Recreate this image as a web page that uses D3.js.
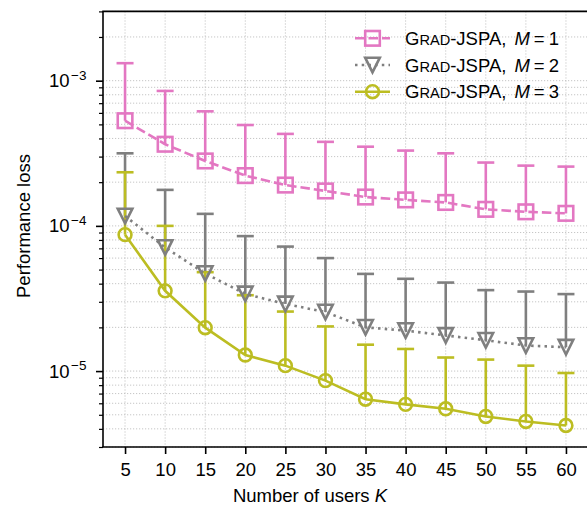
<!DOCTYPE html>
<html>
<head>
<meta charset="utf-8">
<script src="https://cdn.jsdelivr.net/npm/d3@7"></script>
<style>
  body { margin: 0; background: #fff; }
  svg { display: block; font-family: "Liberation Sans", Arial, Helvetica, sans-serif; }
</style>
</head>
<body>
<div class="chart"></div>
<script>
// number of users K
const users = [5, 10, 15, 20, 25, 30, 35, 40, 45, 50, 55, 60];

// mean performance loss and top of the error bar, per M
const lossM1 = [5.30e-4, 3.65e-4, 2.80e-4, 2.22e-4, 1.91e-4, 1.74e-4, 1.58e-4, 1.51e-4, 1.45e-4, 1.30e-4, 1.25e-4, 1.22e-4];
const upperM1 = [1.32e-3, 8.5e-4, 6.15e-4, 4.95e-4, 4.30e-4, 3.79e-4, 3.51e-4, 3.30e-4, 3.16e-4, 2.73e-4, 2.60e-4, 2.56e-4];
const lossM2 = [1.17e-4, 7.1e-5, 4.7e-5, 3.4e-5, 2.9e-5, 2.55e-5, 2.0e-5, 1.9e-5, 1.76e-5, 1.63e-5, 1.5e-5, 1.46e-5];
const upperM2 = [3.16e-4, 1.77e-4, 1.21e-4, 8.5e-5, 7.2e-5, 6.0e-5, 4.67e-5, 4.32e-5, 4.07e-5, 3.61e-5, 3.53e-5, 3.39e-5];
const lossM3 = [8.7e-5, 3.57e-5, 1.99e-5, 1.29e-5, 1.09e-5, 8.6e-6, 6.4e-6, 5.9e-6, 5.5e-6, 4.87e-6, 4.5e-6, 4.22e-6];
const upperM3 = [2.34e-4, 1.0e-4, 4.8e-5, 3.33e-5, 2.57e-5, 2.03e-5, 1.52e-5, 1.42e-5, 1.24e-5, 1.20e-5, 1.09e-5, 9.7e-6];

const seriesNames = ["1", "2", "3"];
const colors = ["#e377c2", "#7f7f7f", "#bcbd22"];
const dashes = ["9.5,4", "2.5,4.2", null];
const markers = ["square", "triangle", "circle"];

const series = [
  { m: seriesNames[0], loss: lossM1, upper: upperM1, color: colors[0], dash: dashes[0], marker: markers[0] },
  { m: seriesNames[1], loss: lossM2, upper: upperM2, color: colors[1], dash: dashes[1], marker: markers[1] },
  { m: seriesNames[2], loss: lossM3, upper: upperM3, color: colors[2], dash: dashes[2], marker: markers[2] }
];

const W = 587, H = 506;
const plot = { left: 103, right: 588, top: 11.4, bottom: 447 };

const x = d3.scaleLinear()
  .domain([2.25, 62.75])
  .range([plot.left, plot.right]);

const y = d3.scaleLog()
  .domain([3e-6, 3e-3])
  .range([plot.bottom, plot.top]);

const svg = d3.select(".chart").append("svg")
  .attr("width", W)
  .attr("height", H);

// minor + major y positions for grid
const yMajor = [1e-5, 1e-4, 1e-3];
const yMinor = [];
for (let e = -6; e <= -3; e++) {
  for (let k = 2; k <= 9; k++) {
    const v = k * Math.pow(10, e);
    if (v >= 3e-6 * 0.999 && v <= 3e-3 * 1.001) yMinor.push(v);
  }
}

const grid = svg.append("g")
  .attr("class", "grid")
  .attr("stroke", "#b8b8b8")
  .attr("stroke-width", 0.8)
  .attr("stroke-dasharray", "1.2,1.8");

grid.selectAll("line.gy")
  .data(yMajor.concat(yMinor))
  .join("line")
  .attr("class", "gy")
  .attr("x1", plot.left).attr("x2", plot.right)
  .attr("y1", d => y(d)).attr("y2", d => y(d));

grid.selectAll("line.gx")
  .data(users)
  .join("line")
  .attr("class", "gx")
  .attr("x1", d => x(d)).attr("x2", d => x(d))
  .attr("y1", plot.top).attr("y2", plot.bottom);

// error bars first (they sit under the data lines)
const capW = 17;
series.forEach(s => {
  const g = svg.append("g")
    .attr("class", "errorbars")
    .attr("stroke", s.color)
    .attr("stroke-width", 2.6);
  g.selectAll("line.v")
    .data(users)
    .join("line")
    .attr("class", "v")
    .attr("x1", d => x(d)).attr("x2", d => x(d))
    .attr("y1", (d, i) => y(s.loss[i]))
    .attr("y2", (d, i) => y(s.upper[i]));
  g.selectAll("line.cap")
    .data(users)
    .join("line")
    .attr("class", "cap")
    .attr("x1", d => x(d) - capW / 2).attr("x2", d => x(d) + capW / 2)
    .attr("y1", (d, i) => y(s.upper[i]))
    .attr("y2", (d, i) => y(s.upper[i]));
});

function drawMarker (sel, type, color) {
  if (type === "square") {
    sel.append("rect")
      .attr("x", -7.3).attr("y", -7.3)
      .attr("width", 14.6).attr("height", 14.6)
      .attr("fill", "none").attr("stroke", color).attr("stroke-width", 2.6);
  } else if (type === "triangle") {
    sel.append("path")
      .attr("d", "M0,7.3L-7.3,-7.3L7.3,-7.3Z")
      .attr("fill", "none").attr("stroke", color).attr("stroke-width", 2.6)
      .attr("stroke-linejoin", "miter");
  } else {
    sel.append("circle")
      .attr("r", 6.4)
      .attr("fill", "none").attr("stroke", color).attr("stroke-width", 2.6);
  }
}

const line = d3.line()
  .x(d => x(d[0]))
  .y(d => y(d[1]));

series.forEach(s => {
  const pts = users.map((k, i) => [k, s.loss[i]]);
  svg.append("path")
    .datum(pts)
    .attr("fill", "none")
    .attr("stroke", s.color)
    .attr("stroke-width", 2.6)
    .attr("stroke-dasharray", s.dash)
    .attr("d", line);
  svg.append("g")
    .selectAll("g")
    .data(pts)
    .join("g")
    .attr("transform", d => `translate(${x(d[0])},${y(d[1])})`)
    .each(function () { drawMarker(d3.select(this), s.marker, s.color); });
});

// spines
svg.append("line")
  .attr("x1", plot.left).attr("x2", plot.left)
  .attr("y1", plot.top).attr("y2", plot.bottom)
  .attr("stroke", "#000").attr("stroke-width", 1.6);
svg.append("line")
  .attr("x1", plot.left - 0.8).attr("x2", plot.right)
  .attr("y1", plot.bottom).attr("y2", plot.bottom)
  .attr("stroke", "#000").attr("stroke-width", 1.6);
svg.append("line")
  .attr("x1", plot.left - 0.8).attr("x2", plot.right)
  .attr("y1", plot.top).attr("y2", plot.top)
  .attr("stroke", "#000").attr("stroke-width", 1.6);

// x axis
const xAxis = d3.axisBottom(x)
  .tickValues(users)
  .tickSize(7)
  .tickPadding(9)
  .tickFormat(d3.format("d"));

const gx = svg.append("g")
  .attr("transform", `translate(0,${plot.bottom})`)
  .call(xAxis);
gx.select(".domain").remove();
gx.selectAll(".tick line").attr("stroke-width", 1.6);
gx.selectAll(".tick text")
  .attr("font-size", 18.5)
  .attr("font-family", "Liberation Sans, Arial, sans-serif")
  .attr("fill", "#000");

// y axis: major ticks with power labels, minor ticks
const yAxis = d3.axisLeft(y)
  .tickValues(yMajor)
  .tickSize(7)
  .tickFormat("");
const gy = svg.append("g")
  .attr("transform", `translate(${plot.left},0)`)
  .call(yAxis);
gy.select(".domain").remove();
gy.selectAll(".tick line").attr("stroke-width", 1.6);

const yAxisMinor = d3.axisLeft(y)
  .tickValues(yMinor)
  .tickSize(4)
  .tickFormat("");
const gyMinor = svg.append("g")
  .attr("transform", `translate(${plot.left},0)`)
  .call(yAxisMinor);
gyMinor.select(".domain").remove();
gyMinor.selectAll(".tick line").attr("stroke-width", 1.2);

const yLabels = svg.append("g")
  .selectAll("text")
  .data(yMajor)
  .join("text")
  .attr("x", 86.5)
  .attr("y", d => y(d) + 6.6)
  .attr("text-anchor", "end")
  .attr("font-size", 18.5)
  .attr("fill", "#000");
yLabels.append("tspan").text("10");
yLabels.append("tspan")
  .attr("dx", 1.5)
  .attr("dy", -7.3)
  .attr("font-size", 13.5)
  .text(d => "\u2212" + Math.round(-Math.log10(d)));

// axis titles
const xTitle = svg.append("text")
  .attr("x", 310)
  .attr("y", 502)
  .attr("text-anchor", "middle")
  .attr("font-size", 18.5)
  .attr("fill", "#000");
xTitle.append("tspan").text("Number of users ");
xTitle.append("tspan").attr("font-style", "italic").text("K");

svg.append("text")
  .attr("transform", "translate(29.5,226) rotate(-90)")
  .attr("text-anchor", "middle")
  .attr("font-size", 18.5)
  .attr("fill", "#000")
  .text("Performance loss");

// legend
const legendRows = [38.3, 65, 91.7];
series.forEach((s, i) => {
  const ly = legendRows[i];
  const lg = svg.append("g").attr("class", "legend");
  lg.append("line")
    .attr("x1", 355).attr("x2", 390)
    .attr("y1", ly).attr("y2", ly)
    .attr("stroke", s.color)
    .attr("stroke-width", 2.6)
    .attr("stroke-dasharray", s.dash);
  const mk = lg.append("g").attr("transform", `translate(372.5,${ly})`);
  drawMarker(mk, s.marker, s.color);
  const t = lg.append("text")
    .attr("x", 405)
    .attr("y", ly + 6.6)
    .attr("font-size", 18.5)
    .attr("fill", "#000");
  t.append("tspan").text("G");
  t.append("tspan").attr("font-size", 14.6).text("RAD");
  t.append("tspan").text("-JSPA,");
  t.append("tspan").attr("dx", 8).attr("font-style", "italic").text("M");
  t.append("tspan").attr("dx", 4).text("=");
  t.append("tspan").attr("dx", 4).text(s.m);
});
</script>
</body>
</html>
